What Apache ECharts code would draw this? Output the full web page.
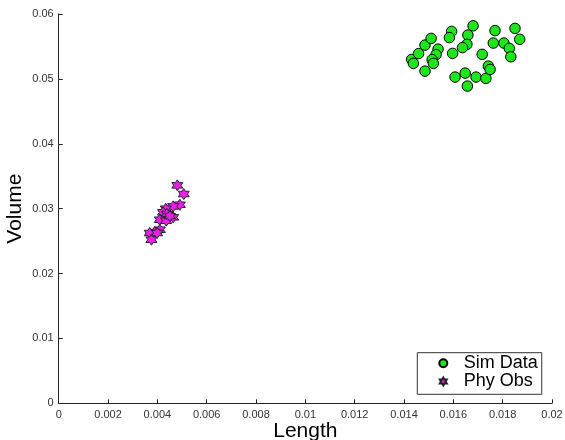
<!DOCTYPE html>
<html>
<head>
<meta charset="utf-8">
<script src="https://cdn.jsdelivr.net/npm/echarts@6/dist/echarts.min.js"></script>
<style>
    html, body { margin: 0; padding: 0; background: #fff; }
    #chart { width: 565px; height: 440px; }
</style>
</head>
<body>
<div id="chart"></div>
<script>
// Sim Data（绿色圆点）
let simLength = [0.01431, 0.01438, 0.01459, 0.01485, 0.01510, 0.01485, 0.01538, 0.01530,
    0.01514, 0.01519, 0.01593, 0.01584, 0.01597, 0.01680, 0.01659, 0.01655,
    0.01637, 0.01607, 0.01648, 0.01657, 0.01692, 0.01732, 0.01742, 0.01749,
    0.01769, 0.01762, 0.01805, 0.01827, 0.01833, 0.01850, 0.01869, 0.01717];
let simVolume = [0.05300, 0.05239, 0.05390, 0.05521, 0.05624, 0.05120, 0.05459, 0.05374,
    0.05297, 0.05239, 0.05732, 0.05636, 0.05393, 0.05818, 0.05675, 0.05533,
    0.05482, 0.05028, 0.05089, 0.04889, 0.05028, 0.05008, 0.05197, 0.05146,
    0.05744, 0.05552, 0.05552, 0.05470, 0.05341, 0.05778, 0.05610, 0.05378];

// Phy Obs（紫色星形）
let obsLength = [0.00481, 0.00507, 0.00491, 0.00464, 0.00434, 0.00423, 0.00439, 0.00464,
    0.00410, 0.00436, 0.00410, 0.00389, 0.00369, 0.00376, 0.00399, 0.00451];
let obsVolume = [0.03359, 0.03225, 0.03060, 0.03035, 0.02998, 0.02943, 0.02917, 0.02866,
    0.02829, 0.02814, 0.02675, 0.02639, 0.02624, 0.02521, 0.02624, 0.02886];

let legendNames = ['Sim Data', 'Phy Obs'];

let hexagram = 'path://M0,-10L2.887,-5L8.66,-5L5.774,0L8.66,5L2.887,5L0,10L-2.887,5L-8.66,5L-5.774,0L-8.66,-5L-2.887,-5Z';
let fontName = 'Liberation Sans, Arial, sans-serif';

function zip(xs, ys) {
    return xs.map(function (x, i) { return [x, ys[i]]; });
}

function tickText(v) {
    return String(parseFloat(v.toFixed(6)));
}

let myChart = echarts.init(document.getElementById('chart'));

let axisCommon = {
    type: 'value',
    splitLine: { show: false },
    axisLine: { show: true, lineStyle: { color: '#222', width: 1 } },
    axisTick: { show: true, inside: true, length: 4, lineStyle: { color: '#222' } },
    axisLabel: { fontSize: 11, color: '#333', fontFamily: fontName, margin: 5, formatter: tickText },
    nameLocation: 'middle',
    nameMoveOverlap: false,
    nameTextStyle: { fontSize: 21, lineHeight: 21, color: '#000', fontFamily: fontName }
};

let option = {
    animation: false,
    backgroundColor: '#fff',
    grid: { left: 58.7, right: 13, top: 14, bottom: 36.7, outerBoundsMode: 'none', containLabel: false },
    xAxis: Object.assign({}, axisCommon, {
        min: 0, max: 0.02, interval: 0.002,
        name: 'Length', nameGap: 17,
        axisLabel: Object.assign({}, axisCommon.axisLabel, { margin: 6 })
    }),
    yAxis: Object.assign({}, axisCommon, {
        min: 0, max: 0.06, interval: 0.01,
        name: 'Volume', nameGap: 33
    }),
    legend: {
        orient: 'vertical',
        left: 417.3,
        top: 352.7,
        data: [
            { name: legendNames[0], icon: 'circle' },
            { name: legendNames[1], icon: hexagram }
        ],
        itemWidth: 8,
        itemHeight: 8,
        itemGap: 0.3,
        padding: [1.5, 4, 3.8, 21],
        borderColor: '#333',
        borderWidth: 1,
        textStyle: { fontSize: 18, lineHeight: 17, color: '#000', fontFamily: fontName, padding: [0, 0, 0, 11.4] }
    },
    series: [
        {
            name: legendNames[0],
            type: 'scatter',
            symbol: 'circle',
            symbolSize: 10.5,
            itemStyle: { color: '#1de61d', borderColor: '#000', borderWidth: 1, opacity: 1 },
            data: zip(simLength, simVolume)
        },
        {
            name: legendNames[1],
            type: 'scatter',
            symbol: hexagram,
            symbolSize: 11,
            itemStyle: { color: '#ea20ea', borderColor: '#222', borderWidth: 1, opacity: 1 },
            data: zip(obsLength, obsVolume)
        }
    ]
};

myChart.setOption(option);
</script>
</body>
</html>
